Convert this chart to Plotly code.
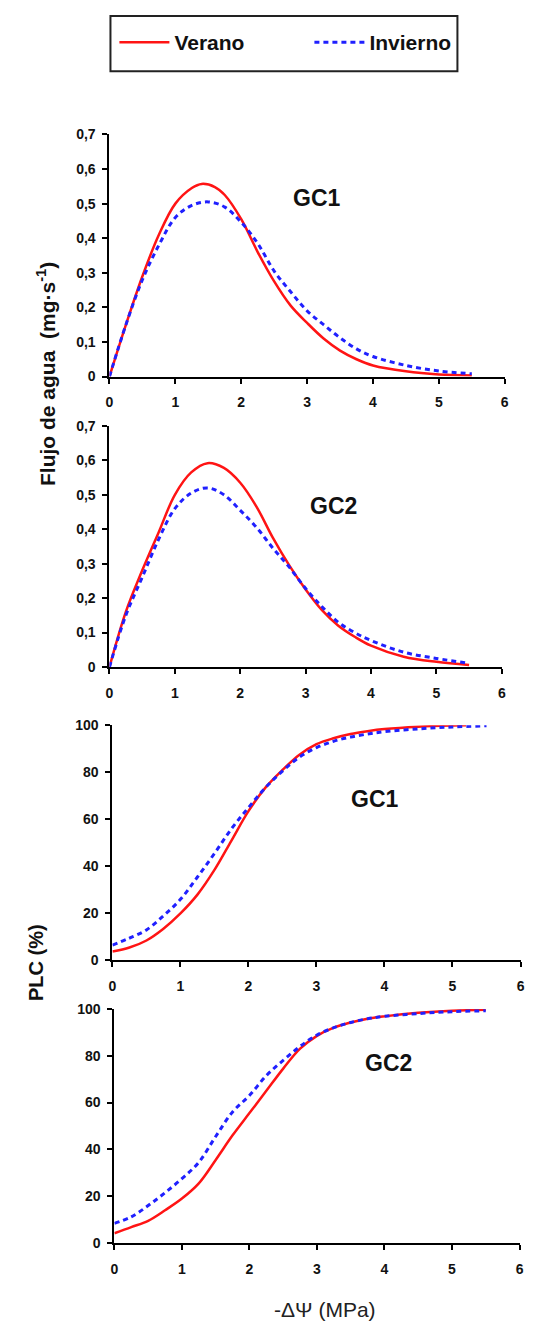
import plotly.graph_objects as go

W, H = 560, 1338

# ---- data: water flow vs -ΔΨ (MPa) ----
x_flow = [0, 0.25, 0.5, 0.75, 1.0, 1.25, 1.4, 1.6, 1.75, 2.0, 2.25, 2.5, 2.75,
          3.0, 3.25, 3.5, 3.75, 4.0, 4.5, 5.0, 5.5]
flow_gc1_verano = [0, 0.15, 0.29, 0.41, 0.50, 0.545, 0.557, 0.548, 0.525, 0.455, 0.36,
                   0.275, 0.205, 0.155, 0.11, 0.075, 0.05, 0.032, 0.015, 0.006, 0.003]

x_flow_b = [0, 0.25, 0.5, 0.75, 1.0, 1.25, 1.5, 1.75, 2.0, 2.25, 2.5, 2.75,
            3.0, 3.25, 3.5, 3.75, 4.0, 4.5, 5.0, 5.5]
flow_gc1_invierno = [0, 0.15, 0.28, 0.38, 0.46, 0.495, 0.505, 0.49, 0.446, 0.385,
                     0.305, 0.245, 0.19, 0.15, 0.112, 0.08, 0.058, 0.032, 0.016, 0.008]
flow_gc2_verano = [0, 0.16, 0.28, 0.39, 0.50, 0.565, 0.592, 0.578, 0.535, 0.465,
                   0.375, 0.295, 0.225, 0.165, 0.12, 0.088, 0.062, 0.03, 0.015, 0.006]
flow_gc2_invierno = [0, 0.15, 0.26, 0.37, 0.46, 0.505, 0.52, 0.50, 0.455, 0.405,
                     0.345, 0.29, 0.228, 0.175, 0.13, 0.10, 0.077, 0.043, 0.025, 0.011]

# ---- data: percent loss of conductivity ----
x_plc = [0, 0.25, 0.5, 0.75, 1.0, 1.25, 1.5, 1.75, 2.0, 2.25, 2.5, 2.75,
         3.0, 3.25, 3.5, 3.75, 4.0, 4.5, 5.0, 5.5]
x_plc_gc1_verano = [0, 0.25, 0.5, 0.75, 1.0, 1.25, 1.5, 1.75, 2.0, 2.25, 2.5, 2.75,
                    3.0, 3.25, 3.5, 3.75, 4.0, 4.5, 5.0, 5.2]
plc_gc1_verano = [3.8, 5.5, 8.5, 13.5, 20, 28, 38.5, 51, 63.5, 73.5, 81, 87.5,
                  92, 94.5, 96.3, 97.5, 98.4, 99.4, 99.9, 100]
plc_gc1_invierno = [6.5, 9.5, 13, 19, 26, 35.5, 45.5, 56, 65, 73.5, 80.5, 86.5,
                    90.5, 93.2, 95, 96.3, 97.3, 98.5, 99.3, 99.8]
plc_gc2_verano = [4.2, 6.8, 9.5, 14, 19, 25.5, 35.5, 46, 55.5, 65, 74.5, 83,
                  88.5, 92, 94.2, 95.8, 96.8, 98.3, 99.2, 99.6]
plc_gc2_invierno = [8.4, 11.2, 16, 21.5, 27.5, 34.5, 45.5, 56, 63, 71.5, 78, 84,
                    88.8, 92, 94.2, 95.8, 96.8, 98, 98.8, 99.2]

x_ticks = [0, 1, 2, 3, 4, 5, 6]
season_names = ["Verano", "Invierno"]
panel_labels = ["GC1", "GC2", "GC1", "GC2"]

RED = "#ff1414"
BLUE = "#2020ff"
red_line = dict(color=RED, width=2.5, shape="spline", smoothing=1.0)
blue_line = dict(color=BLUE, width=3, dash="5px,4px", shape="spline", smoothing=1.0)

fig = go.Figure()

panels = [
    ("x", "y", x_flow, flow_gc1_verano, x_flow_b, flow_gc1_invierno),
    ("x2", "y2", x_flow_b, flow_gc2_verano, x_flow_b, flow_gc2_invierno),
    ("x3", "y3", x_plc_gc1_verano, plc_gc1_verano, x_plc, plc_gc1_invierno),
    ("x4", "y4", x_plc, plc_gc2_verano, x_plc, plc_gc2_invierno),
]
for i, (xa, ya, xr, yr, xb, yb) in enumerate(panels):
    fig.add_trace(go.Scatter(x=xr, y=yr, mode="lines", line=red_line,
                             name=season_names[0], showlegend=(i == 0),
                             xaxis=xa, yaxis=ya))
    fig.add_trace(go.Scatter(x=xb, y=yb, mode="lines", line=blue_line,
                             name=season_names[1], showlegend=(i == 0),
                             xaxis=xa, yaxis=ya))

# plot-area boxes in pixels: left, right, top, bottom
boxes = [(107, 508, 128, 373), (107, 505, 423, 667),
         (110, 524, 726, 964), (112, 523, 1013, 1250)]

tick_font = dict(family="Arial", size=14, color="#111", weight="bold")
axis_common = dict(showline=True, linecolor="black", linewidth=2,
                   ticks="outside", ticklen=5, tickwidth=2, tickcolor="black",
                   showgrid=False, zeroline=False, tickfont=tick_font,
                   fixedrange=True)

layout_axes = {}
for i, (l, r, t, b) in enumerate(boxes):
    sfx = "" if i == 0 else str(i + 1)
    anchor_y = "y" + sfx
    anchor_x = "x" + sfx
    layout_axes["xaxis" + sfx] = dict(axis_common, domain=[l / W, r / W],
                                      anchor=anchor_y, range=[0, 6],
                                      tickvals=x_ticks, ticklabelstandoff=7)
    if i < 2:
        yspec = dict(range=[0, 0.7], dtick=0.1, tick0=0)
    else:
        yspec = dict(range=[0, 100], dtick=20, tick0=0)
    layout_axes["yaxis" + sfx] = dict(axis_common, domain=[1 - b / H, 1 - t / H],
                                      anchor=anchor_x, ticklabelstandoff=4, **yspec)

fig.update_layout(**layout_axes)

# panel labels placed in data coordinates
label_pos = [(3.15, 0.515), (3.42, 0.467), (3.86, 68.5), (4.06, 76.8)]
annotations = []
for i, (lab, (ax_x, ax_y)) in enumerate(zip(panel_labels, label_pos)):
    sfx = "" if i == 0 else str(i + 1)
    annotations.append(dict(text=lab, x=ax_x, y=ax_y, xref="x" + sfx, yref="y" + sfx,
                            showarrow=False, xanchor="center", yanchor="middle",
                            font=dict(family="Arial", size=23, color="#111",
                                      weight="bold")))

# axis titles
annotations.append(dict(text="Flujo de agua  (mg·s<sup>-1</sup>)", x=42 / W, y=1 - 370 / H,
                        xref="paper", yref="paper", showarrow=False, textangle=-90,
                        xanchor="center", yanchor="middle",
                        font=dict(family="Arial", size=21, color="#111", weight="bold")))
annotations.append(dict(text="PLC (%)", x=33 / W, y=1 - 966 / H,
                        xref="paper", yref="paper", showarrow=False, textangle=-90,
                        xanchor="center", yanchor="middle",
                        font=dict(family="Arial", size=20, color="#111", weight="bold")))
annotations.append(dict(text="-ΔΨ (MPa)", x=326 / W, y=1 - 1317 / H,
                        xref="paper", yref="paper", showarrow=False,
                        xanchor="center", yanchor="middle",
                        font=dict(family="Arial", size=21, color="#222")))

# legend frame
shapes = [dict(type="rect", xref="paper", yref="paper",
               x0=108 / W, x1=460 / W, y0=1 - 64 / H, y1=1 - 8 / H,
               line=dict(color="#222", width=2), fillcolor="rgba(0,0,0,0)")]

fig.update_layout(
    width=W, height=H,
    margin=dict(l=0, r=0, t=0, b=0),
    paper_bgcolor="white", plot_bgcolor="white",
    separators=",.",
    annotations=annotations,
    shapes=shapes,
    showlegend=True,
    legend=dict(orientation="h", x=112 / W, y=1 - 35 / H, xanchor="left",
                yanchor="middle", bgcolor="rgba(0,0,0,0)", borderwidth=0,
                font=dict(family="Arial", size=21, color="#111", weight="bold"),
                itemwidth=50, entrywidth=130, entrywidthmode="pixels"),
)

fig.write_html("out.html", config={"displayModeBar": False})
